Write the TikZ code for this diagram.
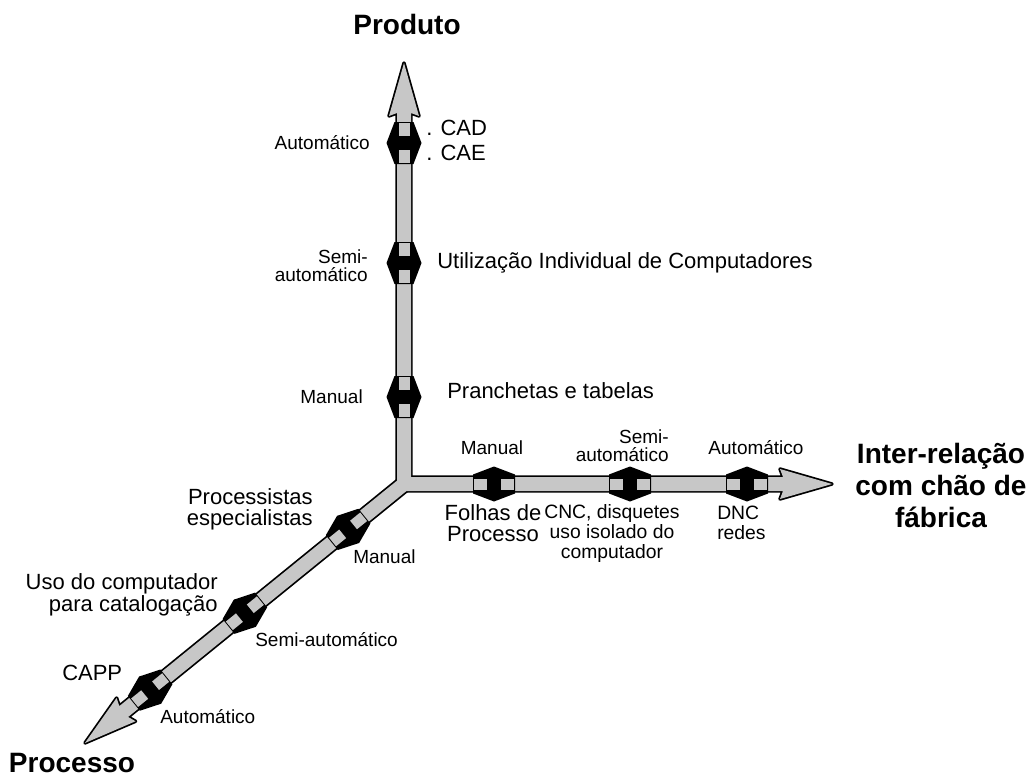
\documentclass[tikz,border=0pt]{standalone}
\usepackage{fontspec}
\setmainfont{Liberation Sans}
\usetikzlibrary{calc}
\begin{document}
\begin{tikzpicture}[x=0.75pt,y=-0.75pt,
  shaftline/.style={draw=black,line width=2.6pt,line join=round},
  shaftfill/.style={fill=black!22},
  lvl/.style={font=\fontsize{14.25}{13.5}\selectfont,inner sep=0pt},
  desc/.style={font=\fontsize{16.5}{16}\selectfont,inner sep=0pt},
  descsmall/.style={font=\fontsize{14.5}{15}\selectfont,inner sep=0pt},
  axislabel/.style={font=\fontsize{21}{24}\selectfont\bfseries,inner sep=0pt,align=center},
  pics/lvlmark/.style={code={
    \fill[black] (21,9.5) -- (0,17.5) -- (-21,9.5) -- (-21,-9.5) -- (0,-17.5) -- (21,-9.5) -- cycle;
    \fill[black!22] (7,-5.5) rectangle (20,5.5);
    \fill[black!22] (-7,-5.5) rectangle (-20,5.5);
  }}]
\useasboundingbox (0,0) rectangle (1036,782);

% origin of the three axes and their tips
\coordinate (O) at (404,484);
\coordinate (Vtip) at (404,63);
\coordinate (Htip) at (832,484);
\coordinate (Dtip) at (85,743);

% the three shafts: outline first, then the fill merges them at the origin
\foreach \layer in {shaftline,shaftfill}{
  \path[\layer] (397,484) -- (397,113) -- (389,116) -- (Vtip) -- (419,116) -- (411,113) -- (411,484) -- cycle;
  \path[\layer] (404,477) -- (783,477) -- (780,469) -- (Htip) -- (780,499) -- (783,491) -- (404,491) -- cycle;
  \begin{scope}[shift={(O)},rotate=219.07]
    \path[\layer] (0,-7) -- (361,-7) -- (358,-15) -- (411,0) -- (358,15) -- (361,7) -- (0,7) -- cycle;
  \end{scope}
}

% level marks on the product axis
\pic[rotate=90] at (404,143) {lvlmark};
\pic[rotate=90] at (404,263) {lvlmark};
\pic[rotate=90] at (404,397) {lvlmark};
% level marks on the shop-floor axis
\pic at (494,484) {lvlmark};
\pic at (630,484) {lvlmark};
\pic at (747,484) {lvlmark};
% level marks on the process axis
\pic[rotate=219.07] at ($(O)!72/410.9!(Dtip)$) {lvlmark};
\pic[rotate=219.07] at ($(O)!205/410.9!(Dtip)$) {lvlmark};
\pic[rotate=219.07] at ($(O)!327/410.9!(Dtip)$) {lvlmark};

% axis titles
\node[axislabel] (tprod) at (407,24) {Produto};
\node[axislabel] (tint) at (941,485) {Inter-relação\\com chão de\\fábrica};
\node[axislabel] (tproc) at (72,763) {Processo};

% product axis labels
\node[lvl,anchor=east] (pa) at (370,143) {Automático};
\node[lvl,anchor=east,align=right] (ps) at (368,266) {Semi-\\automático};
\node[lvl,anchor=east] (pm) at (363,397) {Manual};
\node[desc,anchor=west,align=left,font=\fontsize{16.5}{18.75}\selectfont] (pcad) at (426,140) {. CAD\\. CAE};
\node[desc,anchor=west] (pind) at (437,263) {Utilização Individual de Computadores};
\node[desc,anchor=west] (ppr) at (447,391) {Pranchetas e tabelas};

% shop-floor axis labels
\node[lvl] (hm) at (492,448) {Manual};
\node[lvl,anchor=east,align=right] (hs) at (669,446) {Semi-\\automático};
\node[lvl] (ha) at (756,448) {Automático};
\node[desc,align=center] (hf) at (493,523) {Folhas de\\Processo};
\node[descsmall,align=center] (hc) at (612,533) {CNC, disquetes\\uso isolado do\\computador};
\node[descsmall,anchor=west,align=left] (hd) at (717,523) {DNC\\redes};

% process axis labels
\node[desc,anchor=east,align=right] (dp) at (313,509) {Processistas\\especialistas};
\node[lvl,anchor=west] (dm) at (353,557) {Manual};
\node[desc,anchor=east,align=right] (du) at (218,595) {Uso do computador\\para catalogação};
\node[lvl,anchor=west] (ds) at (255,640) {Semi-automático};
\node[desc,anchor=west] (dc) at (62,673) {CAPP};
\node[lvl,anchor=west] (dauto) at (160,717) {Automático};
\end{tikzpicture}
\end{document}
